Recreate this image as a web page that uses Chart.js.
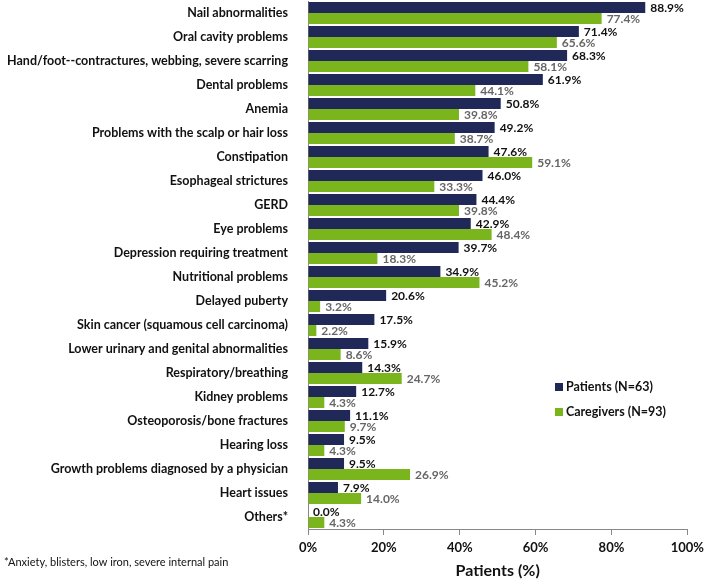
<!DOCTYPE html>
<html>
<head>
<meta charset="utf-8">
<script src="https://cdn.jsdelivr.net/npm/chart.js@4"></script>
<style>
  html, body { margin: 0; padding: 0; background: #fff; }
  #wrap { position: relative; width: 709px; height: 579px; }
</style>
</head>
<body>
<div id="wrap"><canvas id="chart" width="709" height="579"></canvas></div>
<script>
const categories = [
  'Nail abnormalities', 'Oral cavity problems', 'Hand/foot--contractures, webbing, severe scarring',
  'Dental problems', 'Anemia', 'Problems with the scalp or hair loss', 'Constipation',
  'Esophageal strictures', 'GERD', 'Eye problems', 'Depression requiring treatment',
  'Nutritional problems', 'Delayed puberty', 'Skin cancer (squamous cell carcinoma)',
  'Lower urinary and genital abnormalities', 'Respiratory/breathing', 'Kidney problems',
  'Osteoporosis/bone fractures', 'Hearing loss', 'Growth problems diagnosed by a physician',
  'Heart issues', 'Others*'
]
const patients = [88.9, 71.4, 68.3, 61.9, 50.8, 49.2, 47.6, 46.0, 44.4, 42.9, 39.7, 34.9, 20.6, 17.5, 15.9, 14.3, 12.7, 11.1, 9.5, 9.5, 7.9, 0.0]
const caregivers = [77.4, 65.6, 58.1, 44.1, 39.8, 38.7, 59.1, 33.3, 39.8, 48.4, 18.3, 45.2, 3.2, 2.2, 8.6, 24.7, 4.3, 9.7, 4.3, 26.9, 14.0, 4.3]
const xTicks = [0, 20, 40, 60, 80, 100]
const footnote = '*Anxiety, blisters, low iron, severe internal pain'

const navy = '#1f2857'
const green = '#7ab51d'
const font = 'Lato, "Open Sans", sans-serif'

// value labels at the end of each bar
const valueLabels = {
  id: 'valueLabels',
  afterDatasetsDraw(chart) {
    const ctx = chart.ctx
    ctx.save()
    ctx.textBaseline = 'middle'
    ctx.textAlign = 'left'
    chart.data.datasets.forEach((ds, i) => {
      const meta = chart.getDatasetMeta(i)
      ctx.fillStyle = i === 0 ? '#111111' : '#666666'
      ctx.font = 'bold 12px ' + font
      meta.data.forEach((bar, j) => {
        ctx.fillText(ds.data[j].toFixed(1) + '%', bar.x + 5, bar.y + 1)
      })
    })
    ctx.restore()
  }
}

// legend box + footnote
const extras = {
  id: 'extras',
  afterDraw(chart) {
    const ctx = chart.ctx
    ctx.save()
    ctx.textBaseline = 'middle'
    chart.data.datasets.forEach((ds, i) => {
      const y = 387 + i * 25
      ctx.fillStyle = ds.backgroundColor
      ctx.fillRect(555, y - 4, 8, 8)
      ctx.fillStyle = '#111'
      ctx.font = 'bold 12.5px ' + font
      ctx.fillText(ds.label, 566, y)
    })
    ctx.fillStyle = '#111'
    ctx.font = '11px ' + font
    ctx.fillText(footnote, 4, 562)
    ctx.restore()
  }
}

new Chart(document.getElementById('chart'), {
  type: 'bar',
  data: {
    labels: categories,
    datasets: [
      { label: 'Patients (N=63)', data: patients, backgroundColor: navy },
      { label: 'Caregivers (N=93)', data: caregivers, backgroundColor: green }
    ]
  },
  options: {
    indexAxis: 'y',
    responsive: false,
    animation: false,
    layout: { padding: { top: 1, right: 16, left: 0, bottom: 0 } },
    datasets: { bar: { categoryPercentage: 0.92, barPercentage: 1.0 } },
    plugins: { legend: { display: false }, tooltip: { enabled: false } },
    scales: {
      x: {
        min: 0, max: 100,
        afterBuildTicks: s => { s.ticks = xTicks.map(v => ({ value: v })) },
        afterFit: s => { s.height = 50 },
        grid: { display: true, drawOnChartArea: false, drawTicks: true, tickLength: 6, color: '#888' },
        border: { display: true, color: '#888' },
        ticks: { color: '#111', font: { family: font, size: 13, weight: 'bold' }, padding: 5, callback: v => v + '%' },
        title: { display: true, text: 'Patients (%)', color: '#111', font: { family: font, size: 16, weight: 'bold', lineHeight: 1 }, padding: { top: 0, bottom: 0 } }
      },
      y: {
        afterFit: s => { s.width = 308; s.paddingTop = 0; s.paddingBottom = 0 },
        grid: { display: false },
        border: { display: true, color: '#888' },
        ticks: { color: '#111', font: { family: font, size: 12.5, weight: 'bold' }, padding: 12, autoSkip: false }
      }
    }
  },
  plugins: [valueLabels, extras]
})
</script>
</body>
</html>
